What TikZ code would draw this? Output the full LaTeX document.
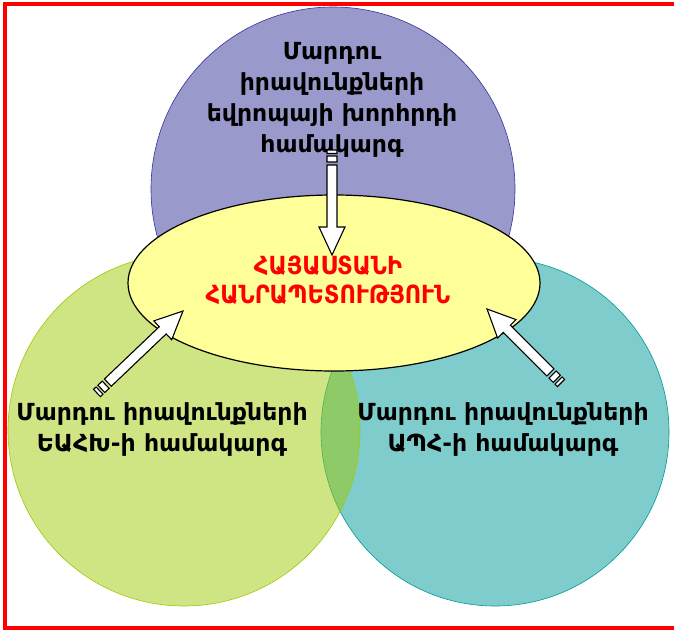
\documentclass[tikz,border=0pt]{standalone}
\usepackage{fontspec}
\setmainfont{DejaVu Sans}
\usetikzlibrary{calc, shapes.geometric}
\definecolor{eublue}{HTML}{333399}
\definecolor{osgreen}{HTML}{9FC905}
\definecolor{cisteal}{HTML}{009999}
\definecolor{rayellow}{HTML}{FFFF99}
\tikzset{sphere/.style={circle, fill opacity=0.5, line width=0.6pt, inner sep=0pt},
         centre/.style={ellipse, draw=black, fill=rayellow, line width=1.2pt, inner sep=0pt,
                        text=red, align=center, font=\bfseries\fontsize{25}{29}\selectfont\addfontfeature{FakeStretch=0.9}},
         systext/.style={align=center, font=\bfseries\fontsize{23.5}{31}\selectfont},
         blockarrow/.style={draw=black, fill=white, line width=1.1pt, line join=miter,
           to path={
             ($(\tikztostart)!5pt!90:(\tikztotarget)$) -- ($($(\tikztostart)!3.5pt!(\tikztotarget)$)!5pt!90:(\tikztotarget)$)
             -- ($($(\tikztostart)!3.5pt!(\tikztotarget)$)!5pt!-90:(\tikztotarget)$) -- ($(\tikztostart)!5pt!-90:(\tikztotarget)$) -- cycle
             ($($(\tikztostart)!6pt!(\tikztotarget)$)!5pt!90:(\tikztotarget)$) -- ($($(\tikztostart)!12pt!(\tikztotarget)$)!5pt!90:(\tikztotarget)$)
             -- ($($(\tikztostart)!12pt!(\tikztotarget)$)!5pt!-90:(\tikztotarget)$) -- ($($(\tikztostart)!6pt!(\tikztotarget)$)!5pt!-90:(\tikztotarget)$) -- cycle
             ($($(\tikztostart)!15pt!(\tikztotarget)$)!5pt!90:(\tikztotarget)$)
             -- ($($(\tikztotarget)!28pt!(\tikztostart)$)!5pt!90:(\tikztotarget)$)
             -- ($($(\tikztotarget)!28pt!(\tikztostart)$)!13pt!90:(\tikztotarget)$)
             -- (\tikztotarget)
             -- ($($(\tikztotarget)!28pt!(\tikztostart)$)!13pt!-90:(\tikztotarget)$)
             -- ($($(\tikztotarget)!28pt!(\tikztostart)$)!5pt!-90:(\tikztotarget)$)
             -- ($($(\tikztostart)!15pt!(\tikztotarget)$)!5pt!-90:(\tikztotarget)$) -- cycle}},
        }
\begin{document}
\begin{tikzpicture}[x=1pt,y=-1pt]
        \useasboundingbox (0,0) rectangle (674,632);
        \draw[red, line width=4pt] (674,4) -- (5,4) -- (5,628) -- (674,628);

        \node[sphere, draw=eublue, fill=eublue, minimum size=364pt](coe)at(333,189){};
        \node[sphere, draw=cisteal, fill=cisteal, minimum size=348pt](cis)at(495,432){};
        \node[sphere, draw=osgreen, fill=osgreen, minimum size=352pt](osce)at(184,430){};
        \node[centre, minimum width=412pt, minimum height=176pt](ra)at(334,283){};
        \node[centre, draw=none, fill=none](ratext)at(328,280){ՀԱՅԱՍՏԱՆԻ\\ՀԱՆՐԱՊԵՏՈՒԹՅՈՒՆ};

        \node[systext](coetext)at(332,100){Մարդու\\իրավունքների\\եվրոպայի խորհրդի\\համակարգ};
        \node[systext](oscetext)at(162,430){Մարդու իրավունքների\\ԵԱՀԽ-ի համակարգ};
        \node[systext](cistext)at(503,430){Մարդու իրավունքների\\ԱՊՀ-ի համակարգ};

        \coordinate(coetail)at(332,150);
        \coordinate(coetip)at(332,255);
        \coordinate(oscetail)at(97,393);
        \coordinate(oscetip)at(183,311);
        \coordinate(cistail)at(561,383);
        \coordinate(cistip)at(487,309);

        \draw[blockarrow](coetail) to (coetip);
        \draw[blockarrow](oscetail) to (oscetip);
        \draw[blockarrow](cistail) to (cistip);
    \end{tikzpicture}
\end{document}
